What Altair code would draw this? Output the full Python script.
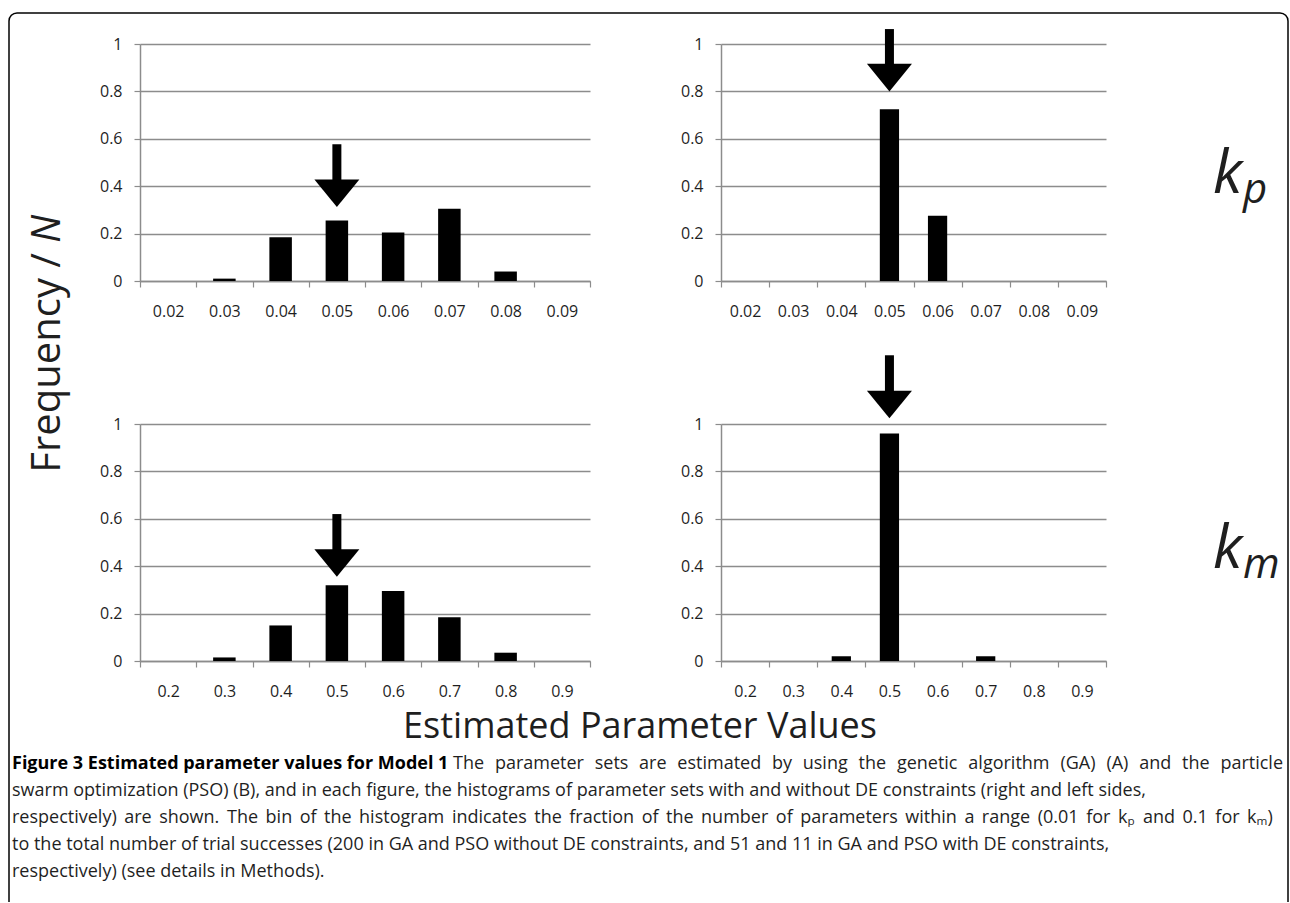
import json
import altair as alt
import pandas as pd

FONT = "Open Sans"
GRID = "#8c8c8c"
TXT = "#1f1f1f"

# ---------------- data ----------------
kp_labels = ["0.02", "0.03", "0.04", "0.05", "0.06", "0.07", "0.08", "0.09"]
km_labels = ["0.2", "0.3", "0.4", "0.5", "0.6", "0.7", "0.8", "0.9"]

kp_without_de = [0.0, 0.01, 0.185, 0.255, 0.205, 0.305, 0.04, 0.0]
kp_with_de = [0.0, 0.0, 0.0, 0.725, 0.275, 0.0, 0.0, 0.0]
km_without_de = [0.0, 0.015, 0.15, 0.32, 0.295, 0.185, 0.035, 0.0]
km_with_de = [0.0, 0.0, 0.02, 0.96, 0.0, 0.02, 0.0, 0.0]

# arrows (TL, TR, BL, BR): bin index, shaft top, head base, head tip (frequency units)
arrow_bin = [3, 3, 3, 3]
arrow_top = [0.577, 1.063, 0.62, 1.29]
arrow_base = [0.428, 0.916, 0.471, 1.14]
arrow_tip = [0.313, 0.80, 0.356, 1.024]

y_ticks = [0, 0.2, 0.4, 0.6, 0.8, 1]

caption_bold = "Figure 3 Estimated parameter values for Model 1"
caption_lines = [
    "The parameter sets are estimated by using the genetic algorithm (GA) (A) and the particle",
    "swarm optimization (PSO) (B), and in each figure, the histograms of parameter sets with "
    "and without DE constraints (right and left sides,",
    "respectively) are shown. The bin of the histogram indicates the fraction of the number of "
    "parameters within a range (0.01 for k\u209a and 0.1 for k\u2098)",
    "to the total number of trial successes (200 in GA and PSO without DE constraints, and 51 "
    "and 11 in GA and PSO with DE constraints,",
    "respectively) (see details in Methods).",
]

# ---------------- layout / styling ----------------
LEFT_W, RIGHT_W, PANEL_H = 450, 385, 237
X0, Y0 = 140, 44          # absolute position of the top-left plot area
HEAD_W, HEAD_H = 45, 27.6
TRI = "M-1,-{h:.3f}L1,-{h:.3f}L0,{h:.3f}Z".format(h=HEAD_H / HEAD_W)
CAP = 18
CAP_BOLD = 18
CAP_Y = [764, 791, 818, 845, 872]
# line (start x, end x or None for natural width)
CAP_X = [(453, 1283), (12, None), (12, 1270), (12, None), (12, None)]

# approximate Open Sans advance widths (em) for text justification
_W = {" ": .26, "(": .297, ")": .297, ",": .244, ".": .266, "-": .322, "/": .367}
_W.update({d: .572 for d in "0123456789"})
_W.update(dict(zip("abcdefghijklmnopqrstuvwxyz",
                   [.556, .613, .482, .613, .561, .339, .548, .614, .253, .253, .525, .253, .930,
                    .614, .604, .613, .613, .408, .477, .353, .614, .501, .778, .524, .502, .477])))
_W.update(dict(zip("ABCDEFGHIJKLMNOPQRSTUVWXYZ",
                   [.633, .648, .631, .729, .556, .516, .728, .738, .279, .267, .614, .519, .903,
                    .754, .779, .602, .779, .618, .549, .556, .728, .595, .925, .577, .560, .571])))


def text_w(s, size):
    return sum(_W.get(c, 0.45) for c in s) * size


def panel(values, labels, width, a):
    n = len(labels)
    cat = width / n
    df = pd.DataFrame({"idx": list(range(n)), "freq": values})
    xs = alt.Scale(domain=[0, n], nice=False, zero=False)
    ys = alt.Scale(domain=[0, 1], nice=False, zero=True)
    label_expr = "datum.value < %d ? %s[datum.value] : ''" % (n, json.dumps(labels))
    xaxis = alt.Axis(values=list(range(n + 1)), labelExpr=label_expr, labelOffset=cat / 2,
                     grid=False, tickSize=6, tickColor=GRID, tickWidth=1.2,
                     domainColor=GRID, domainWidth=1.5, labelPadding=16,
                     labelFont=FONT, labelFontSize=16, labelColor=TXT,
                     labelFlush=False, labelOverlap=False, labelBound=False, title=None)
    yaxis = alt.Axis(values=y_ticks, format="~g", grid=True, gridColor=GRID, gridWidth=1.3,
                     tickSize=6, tickColor=GRID, tickWidth=1.2, domainColor=GRID,
                     domainWidth=1.5, labelPadding=12, labelFont=FONT, labelFontSize=16,
                     labelColor=TXT, labelOverlap=False, labelBound=False, title=None)
    bars = alt.Chart(df).transform_calculate(
        x0="datum.idx + 0.3", x1="datum.idx + 0.7", base="0"
    ).mark_rect(color="black").encode(
        x=alt.X("x0:Q", scale=xs, axis=xaxis, title=None),
        x2="x1:Q",
        y=alt.Y("freq:Q", scale=ys, axis=yaxis, title=None),
        y2="base:Q",
    )
    adf = pd.DataFrame({"xc": [arrow_bin[a] + 0.5], "top": [arrow_top[a]],
                        "hb": [arrow_base[a]], "tip": [arrow_tip[a]]})
    shaft = alt.Chart(adf).transform_calculate(mid="(datum.hb + datum.tip) / 2").mark_rule(
        color="black", strokeWidth=9, strokeCap="butt"
    ).encode(
        x=alt.X("xc:Q", scale=xs, title=None),
        y=alt.Y("top:Q", scale=ys, title=None),
        y2="mid:Q",
    )
    head = alt.Chart(adf).transform_calculate(mid="(datum.hb + datum.tip) / 2").mark_point(
        shape=TRI, size=HEAD_W ** 2, filled=True, color="black", opacity=1, strokeWidth=0
    ).encode(
        x=alt.X("xc:Q", scale=xs, title=None),
        y=alt.Y("mid:Q", scale=ys, title=None),
    )
    return [bars, shaft, head]


def txt(s, x, y, size, **kw):
    return alt.Chart(pd.DataFrame({"t": [s]})).mark_text(
        font=FONT, fontSize=size, color=kw.pop("color", TXT), **kw
    ).encode(x=alt.value(x - X0), y=alt.value(y - Y0), text="t:N")


def caption_line(s, x_start, x_end, y, size):
    if x_end is None:
        return txt(s, x_start, y, size, align="left", baseline="middle")
    words = s.split(" ")
    widths = [text_w(w, size) for w in words]
    gap = (x_end - x_start - sum(widths)) / (len(words) - 1)
    xs, cur = [], x_start
    for w in widths:
        xs.append(cur - X0)
        cur += w + gap
    wdf = pd.DataFrame({"w": words, "px": xs})
    return alt.Chart(wdf).mark_text(
        font=FONT, fontSize=size, color=TXT, align="left", baseline="middle"
    ).encode(x=alt.X("px:Q", scale=None), y=alt.value(y - Y0), text="w:N")


one = pd.DataFrame({"a": [0]})


def vline(x):
    return alt.Chart(one).mark_rule(color="black", strokeWidth=1.5).encode(
        x=alt.value(x - X0), y=alt.value(21 - Y0), y2=alt.value(902 - Y0))


def corner(x, y, t0, t1):
    return alt.Chart(one).mark_arc(radius=8.75, radius2=7.25, theta=t0, theta2=t1,
                                   color="black").encode(x=alt.value(x - X0), y=alt.value(y - Y0))


frame = [
    vline(9), vline(1288),
    alt.Chart(one).mark_rule(color="black", strokeWidth=1.5).encode(
        x=alt.value(17 - X0), x2=alt.value(1280 - X0), y=alt.value(13 - Y0)),
    corner(17, 21, 4.71239, 6.28319),
    corner(1280, 21, 0.0, 1.5708),
]

annotations = [
    # side labels
    txt("k", 1213, 193, 60, fontStyle="italic", align="left", baseline="alphabetic"),
    txt("p", 1243, 203, 42, fontStyle="italic", align="left", baseline="alphabetic"),
    txt("k", 1213, 568, 60, fontStyle="italic", align="left", baseline="alphabetic"),
    txt("m", 1243, 578, 42, fontStyle="italic", align="left", baseline="alphabetic"),
    # y title
    txt("Frequency /", 48, 253, 40, angle=270, align="right", baseline="middle"),
    txt("N", 48, 243, 40, angle=270, align="left", baseline="middle", fontStyle="italic"),
    # x title
    txt("Estimated Parameter Values", 640, 727, 36, align="center", baseline="middle"),
    # caption
    txt(caption_bold, 12, CAP_Y[0], CAP_BOLD, align="left", baseline="middle",
        fontWeight="bold", color="black"),
]
for line, (xa, xb), yy in zip(caption_lines, CAP_X, CAP_Y):
    annotations.append(caption_line(line, xa, xb, yy, CAP))

tl = alt.layer(*panel(kp_without_de, kp_labels, LEFT_W, 0), *frame, *annotations).properties(
    width=LEFT_W, height=PANEL_H)
tr = alt.layer(*panel(kp_with_de, kp_labels, RIGHT_W, 1)).properties(width=RIGHT_W, height=PANEL_H)
bl = alt.layer(*panel(km_without_de, km_labels, LEFT_W, 2)).properties(width=LEFT_W, height=PANEL_H)
br = alt.layer(*panel(km_with_de, km_labels, RIGHT_W, 3)).properties(width=RIGHT_W, height=PANEL_H)

chart = alt.concat(
    tl, tr, bl, br, columns=2, spacing={"row": 143, "column": 131}, bounds="flush"
).properties(
    padding={"left": 8, "top": 12, "right": 1, "bottom": 0},
    background="white",
).configure_view(stroke=None)

chart.save("out.html", embed_options={"renderer": "svg", "actions": False})
